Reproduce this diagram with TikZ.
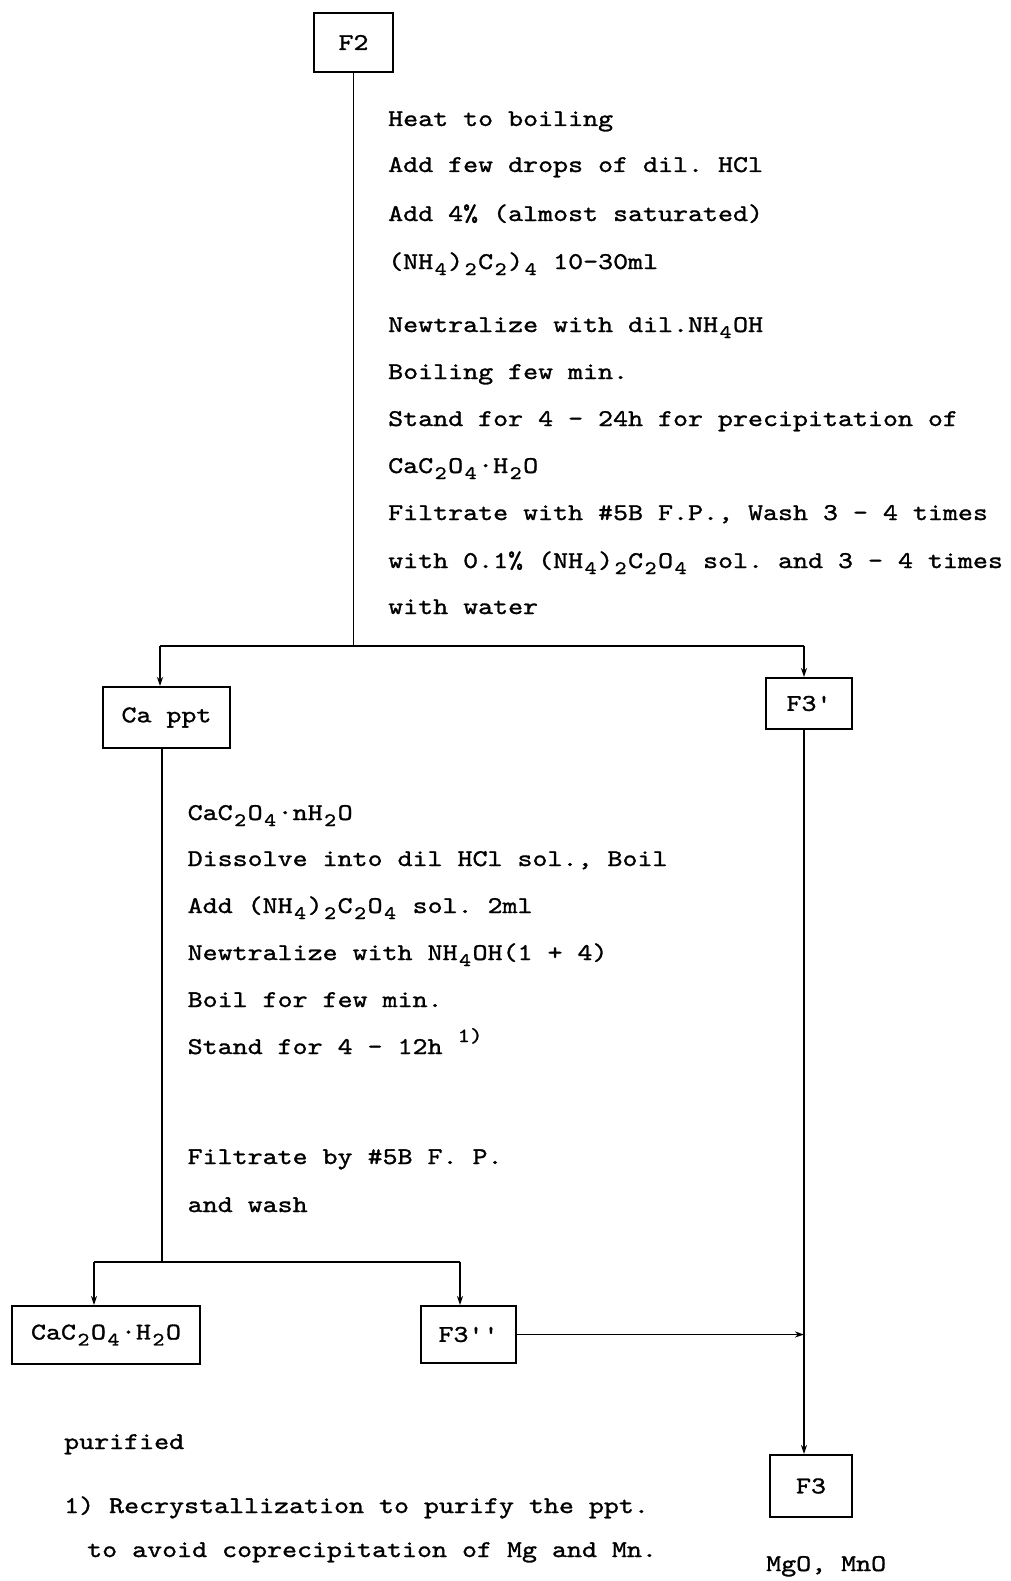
\documentclass[tikz,border=0pt]{standalone}
\usepackage{fontspec}
\setmonofont{lmmono10-regular.otf}[FakeStretch=1.19,FakeBold=1.2]
\usetikzlibrary{arrows.meta}
% lowered / raised typewriter characters, one cell wide
\newcommand{\dn}[1]{\makebox[15pt]{\raisebox{-6pt}{\fontsize{19}{19}\selectfont #1}}}
\newcommand{\up}[1]{\raisebox{12pt}{\fontsize{20}{20}\selectfont #1}}

\begin{document}
\begin{tikzpicture}[x=1pt,y=-1pt,
    every node/.style={font=\ttfamily\fontsize{24}{30}\selectfont},
    box/.style={draw,line width=2pt,inner sep=0pt},
    txt/.style={anchor=base west,inner sep=0pt},
    flow/.style={line width=1.6pt},
    arr/.style={flow,-{Stealth[length=9pt,width=6pt]}}]
    \useasboundingbox (0,0) rectangle (1010,1581);

    % boxes
    \node[box,minimum width=79pt,minimum height=59pt] (f2) at (353.5,42.5) {F2};
    \node[box,minimum width=127pt,minimum height=61pt] (cappt) at (166.5,717.5) {Ca ppt};
    \node[box,minimum width=86pt,minimum height=51pt] (f3p) at (809,703.5) {F3'};
    \node[box,minimum width=188pt,minimum height=58pt] (caox) at (106,1335) {CaC\dn{2}O\dn{4}·H\dn{2}O};
    \node[box,minimum width=95pt,minimum height=57pt] (f3pp) at (468.5,1334.5) {F3''};
    \node[box,minimum width=82pt,minimum height=62pt] (f3) at (811,1486) {F3};

    % branch points
    \coordinate (lcol) at (160,646);
    \coordinate (rcol) at (804,646);
    \coordinate (mid) at (162,1262);
    \coordinate (bl) at (94,1262);
    \coordinate (br) at (460,1262);

    \draw[flow] (f2.south) -- (f2.south |- lcol);
    \draw[flow] (lcol) -- (rcol);
    \draw[arr] (lcol) -- (lcol |- cappt.north);
    \draw[arr] (rcol) -- (rcol |- f3p.north);
    \draw[flow] (mid |- cappt.south) -- (mid);
    \draw[flow] (bl) -- (br);
    \draw[arr] (bl) -- (bl |- caox.north);
    \draw[arr] (br) -- (br |- f3pp.north);
    \draw[arr] (rcol |- f3p.south) -- (rcol |- f3.north);
    \draw[arr] (f3pp.east) -- (f3pp.east -| rcol);

    % steps after F2
    \node[txt] (a1) at (388,126) {Heat to boiling};
    \node[txt] (a2) at (388,172) {Add few drops of dil. HCl};
    \node[txt] (a3) at (388,221) {Add 4\% (almost saturated)};
    \node[txt] (a4) at (388,269) {(NH\dn{4})\dn{2}C\dn{2})\dn{4} 10-30ml};
    \node[txt] (a5) at (388,332) {Newtralize with dil.NH\dn{4}OH};
    \node[txt] (a6) at (388,379) {Boiling few min.};
    \node[txt] (a7) at (388,426) {Stand for 4 - 24h for precipitation of};
    \node[txt] (a8) at (388,473) {CaC\dn{2}O\dn{4}·H\dn{2}O};
    \node[txt] (a9) at (388,520) {Filtrate with \#5B F.P., Wash 3 - 4 times};
    \node[txt] (a10) at (388,568) {with 0.1\% (NH\dn{4})\dn{2}C\dn{2}O\dn{4} sol. and 3 - 4 times};
    \node[txt] (a11) at (388,614) {with water};

    % steps after Ca ppt
    \node[txt] (b1) at (187.5,820) {CaC\dn{2}O\dn{4}·nH\dn{2}O};
    \node[txt] (b2) at (187.5,866) {Dissolve into dil HCl sol., Boil};
    \node[txt] (b3) at (187.5,913) {Add (NH\dn{4})\dn{2}C\dn{2}O\dn{4} sol. 2ml};
    \node[txt] (b4) at (187.5,960) {Newtralize with NH\dn{4}OH(1 + 4)};
    \node[txt] (b5) at (187.5,1007) {Boil for few min.};
    \node[txt] (b6) at (187.5,1054) {Stand for 4 - 12h \up{1)}};
    \node[txt] (b7) at (187.5,1164) {Filtrate by \#5B F. P.};
    \node[txt] (b8) at (187.5,1212) {and wash};

    % notes
    \node[txt] (c1) at (64,1449) {purified};
    \node[txt] (c2) at (64,1513) {1) Recrystallization to purify the ppt.};
    \node[txt] (c3) at (87,1557) {to avoid coprecipitation of Mg and Mn.};
    \node[txt] (c4) at (766,1571) {MgO, MnO};
\end{tikzpicture}
\end{document}
